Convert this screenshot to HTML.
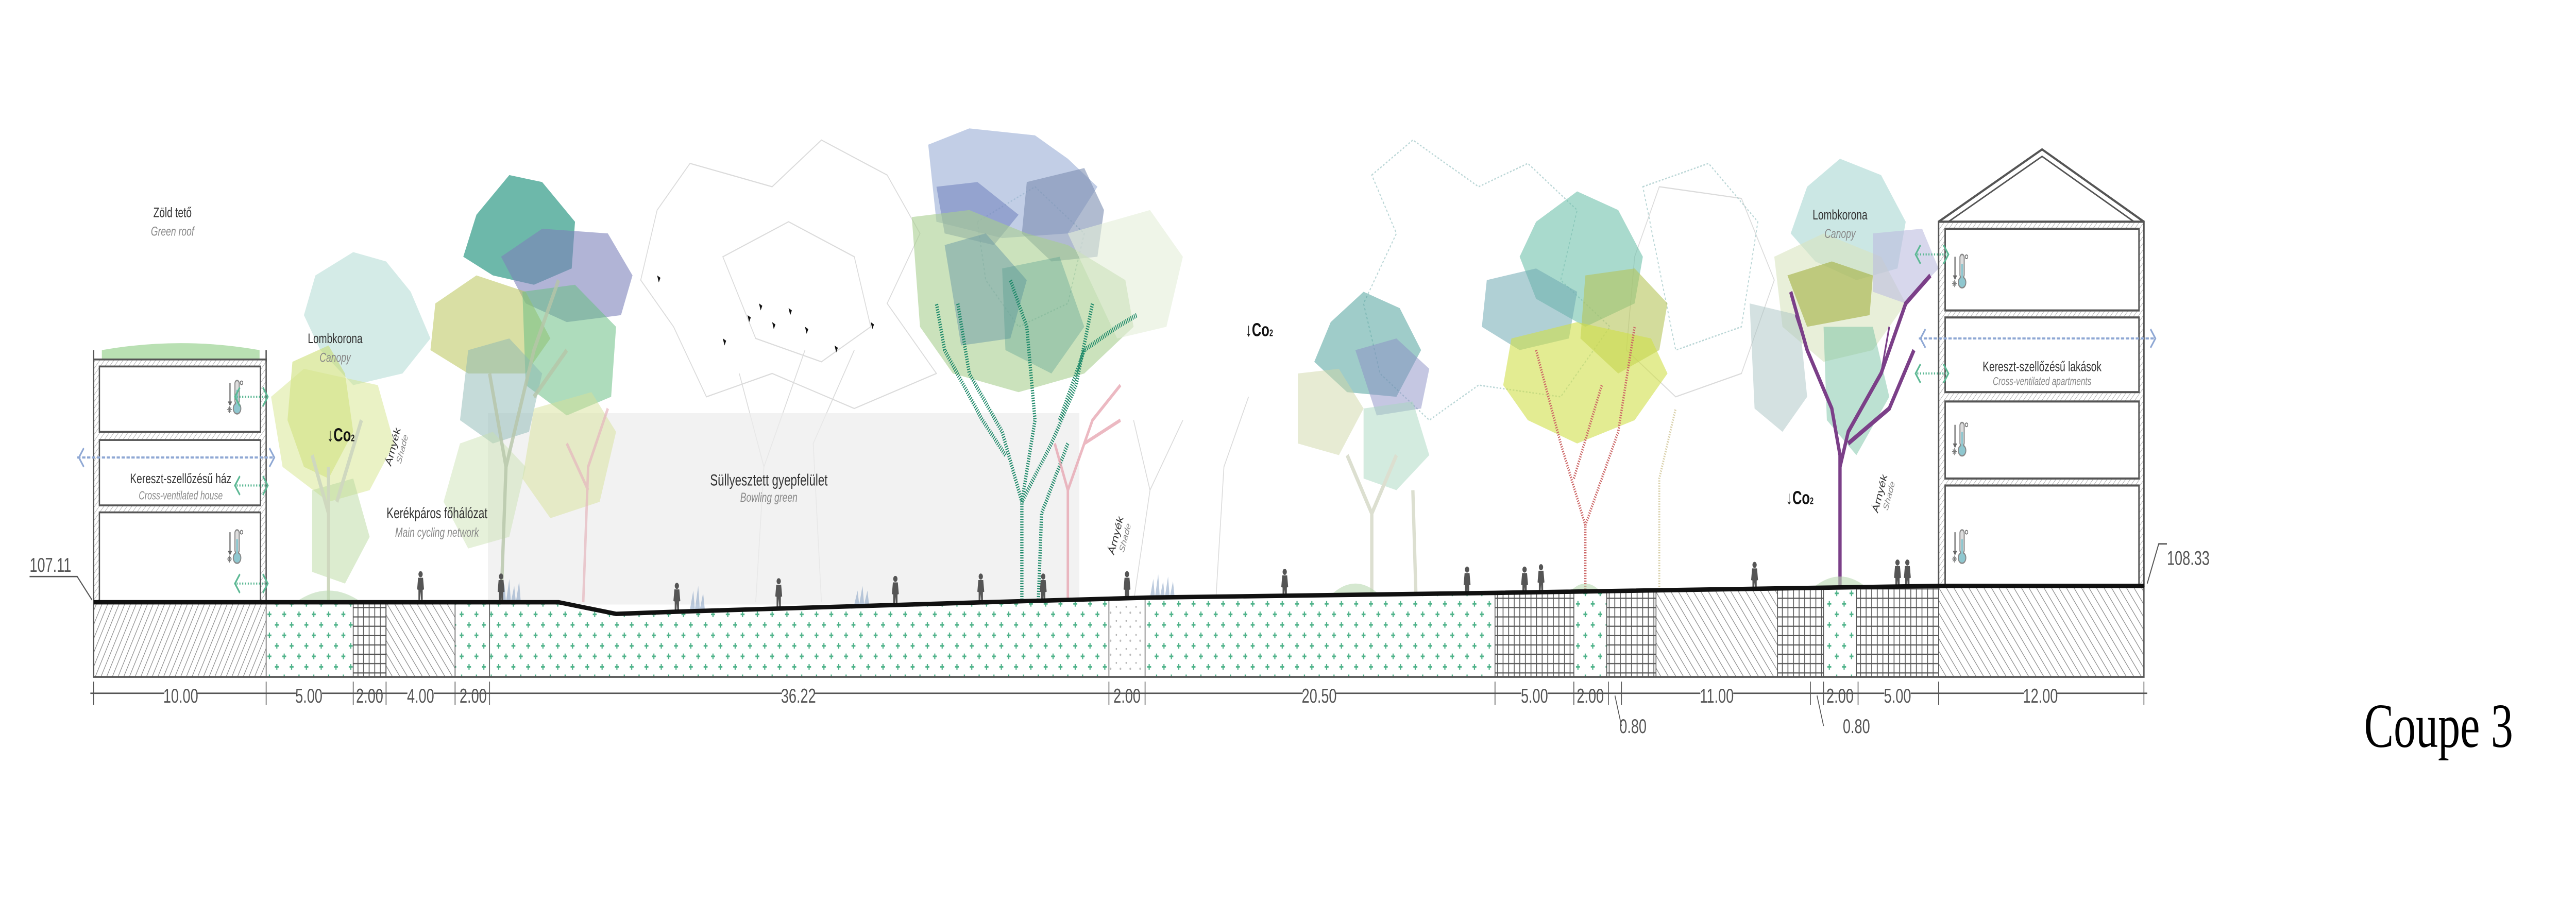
<!DOCTYPE html>
<html><head><meta charset="utf-8">
<style>
html,body{margin:0;padding:0;background:#fff;width:100%;height:100%;overflow:hidden;}
svg{display:block;position:fixed;left:0;top:0;width:100vw;height:100vh;}
.t{font-family:"Liberation Sans",sans-serif;fill:#333;}
.it{font-family:"Liberation Sans",sans-serif;font-style:italic;fill:#888;}
.d{font-family:"Liberation Sans Narrow","Liberation Sans",sans-serif;fill:#555;font-size:8.5px;}
</style></head>
<body>
<svg viewBox="0 0 1568 386" preserveAspectRatio="none" xmlns="http://www.w3.org/2000/svg">
<defs>
<pattern id="hatch" width="3" height="3" patternUnits="userSpaceOnUse" patternTransform="rotate(30)">
<rect width="3" height="3" fill="#fff"/><line x1="0" y1="0" x2="0" y2="3" stroke="#888" stroke-width="0.7"/></pattern>
<pattern id="hatch2" width="3.5" height="3.5" patternUnits="userSpaceOnUse" patternTransform="rotate(-40)">
<rect width="3.5" height="3.5" fill="#fff"/><line x1="0" y1="0" x2="0" y2="3.5" stroke="#888" stroke-width="0.7"/></pattern>
<pattern id="dots" width="9" height="9" patternUnits="userSpaceOnUse">
<rect width="9" height="9" fill="#fff"/>
<g stroke="#4fb38a" stroke-width="0.7"><path d="M2 1v2.4M0.8 2.2h2.4"/><path d="M6.5 5.5v2.4M5.3 6.7h2.4"/></g></pattern>
<pattern id="brick" width="3.4" height="4" patternUnits="userSpaceOnUse">
<rect width="3.4" height="4" fill="#fff"/><path d="M0 0.3H3.4M0.3 0V4" stroke="#555" stroke-width="0.5"/></pattern>
<pattern id="stip" width="6" height="6" patternUnits="userSpaceOnUse">
<rect width="6" height="6" fill="#fff"/><circle cx="1.5" cy="2" r="0.4" fill="#aaa"/><circle cx="4" cy="4.5" r="0.5" fill="#bbb"/></pattern>
<pattern id="wall" width="2" height="2" patternUnits="userSpaceOnUse" patternTransform="rotate(45)">
<rect width="2" height="2" fill="#fff"/><line x1="0" y1="0" x2="0" y2="2" stroke="#999" stroke-width="0.4"/></pattern>
<clipPath id="gc"><path d="M57,258 L340,258 L375,263 L414,262 L600,258 L700,256 L910,254 L1180,251 L1305,251 L1305,290 L57,290Z"/></clipPath>
<g id="thermo">
<path d="M0 0v9" stroke="#666" stroke-width="0.7"/><path d="M-1.3 8l1.3 2 1.3-2z" fill="#666"/>
<rect x="3" y="-1" width="2.6" height="10" rx="1.3" fill="#ddd" stroke="#888" stroke-width="0.6"/>
<circle cx="4.3" cy="11" r="2.3" fill="#8fc7cf" stroke="#888" stroke-width="0.6"/>
<rect x="3.7" y="3" width="1.2" height="7" fill="#8fc7cf"/>
<circle cx="7" cy="0" r="0.8" fill="none" stroke="#666" stroke-width="0.4"/>
<path d="M-1.8 11.5h3M-0.3 10v3M-1.3 10.5l2 2M-1.3 12.5l2-2" stroke="#777" stroke-width="0.35"/>
</g>
<g id="vent"><path d="M4 -4L1 0l3 4M18 -4l3 4-3 4" fill="none" stroke="#5cb894" stroke-width="0.9"/>
<path d="M2 0H20" stroke="#5cb894" stroke-width="0.9" stroke-dasharray="0.7 1"/></g>
<g id="person"><circle cx="0" cy="-11" r="1.3" fill="#555"/><path d="M-1.5 -9.5h3l0.6 5-0.8 0.2 0 4.3h-1l-0.3-3.5-0.3 3.5h-1l0-4.3-0.8-0.2z" fill="#555"/></g>
</defs>

<g fill="none" stroke="#ccc" stroke-width="0.5" opacity="0.7">
<path d="M400 90 L420 70 L470 80 L500 60 L540 75 L560 100 L540 130 L570 160 L520 175 L470 160 L430 170 L410 140 L390 120Z"/>
<path d="M440 110 L480 95 L520 110 L530 140 L500 155 L460 145Z"/>
<path d="M460 258 L465 200 L450 160 M465 200 L490 150 M500 258 L495 190 L520 150"/>
<path d="M690 258 L700 210 L690 180 M700 210 L720 180 M740 258 L745 200 L760 170"/>
<path d="M995 110 L1010 80 L1060 85 L1080 120 L1060 160 L1020 170 L990 150Z"/>
</g>
<g fill="none" stroke="#a9cccc" stroke-width="0.6" stroke-dasharray="1 1" opacity="0.8">
<path d="M835 75 L860 60 L900 80 L930 70 L960 90 L950 120 L980 140 L950 170 L900 165 L870 180 L840 160 L830 130 L850 100Z"/>
<path d="M595 95 L630 80 L660 100 L650 130 L620 140 L600 120Z"/>
<path d="M1000 80 L1040 70 L1070 95 L1060 140 L1020 150Z"/>
</g>

<rect x="297" y="177" width="360" height="82" fill="#ececec" opacity="0.7"/>

<g>
<polygon points="192,118 215,108 235,112 250,125 262,145 245,160 215,165 195,150 185,135" fill="#a9d7cf" opacity="0.5"/>
<polygon points="178,155 200,148 210,160 215,185 200,205 185,200 175,180" fill="#c9dd6b" opacity="0.55"/>
<polygon points="165,170 185,158 230,165 240,190 225,210 200,215 172,200" fill="#d6e58c" opacity="0.5"/>
<polygon points="190,210 215,205 225,230 210,250 190,245" fill="#b9d99f" opacity="0.5"/>
<path d="M200 258 L200 200 M200 220 L190 195 M205 215 L220 180" stroke="#cfd8bf" stroke-width="2" fill="none"/>
<polygon points="290,92 310,75 330,78 350,95 348,115 325,122 300,118 282,110" fill="#2f9a86" opacity="0.7"/>
<polygon points="305,110 330,98 370,100 385,118 378,135 345,138 320,130" fill="#7d82bb" opacity="0.6"/>
<polygon points="265,130 290,118 320,125 335,145 320,160 285,160 262,150" fill="#b9c45a" opacity="0.55"/>
<polygon points="318,125 350,122 375,140 372,170 345,178 320,165" fill="#6cc085" opacity="0.55"/>
<polygon points="285,150 310,145 330,160 322,185 300,190 280,180" fill="#8bb7b3" opacity="0.5"/>
<polygon points="325,175 360,168 375,185 365,215 335,222 318,205" fill="#d8e29a" opacity="0.5"/>
<polygon points="280,190 300,185 320,200 310,230 285,235 270,215" fill="#c7dfae" opacity="0.45"/>
<path d="M305 258 L308 200 L298 160 M308 200 L325 150 L340 120 M325 170 L345 150" stroke="#b7c6a9" stroke-width="2" fill="none" opacity="0.8"/>
<path d="M355 258 L358 200 L370 175 M358 210 L345 190" stroke="#e6b7be" stroke-width="1.5" fill="none" opacity="0.7"/>
</g>

<g>
<polygon points="565,62 590,55 630,58 650,68 668,80 650,100 610,102 570,95" fill="#99add6" opacity="0.6"/>
<polygon points="570,80 595,78 620,92 605,105 575,100" fill="#6f7fbb" opacity="0.55"/>
<polygon points="625,78 660,72 672,90 668,110 640,112 622,100" fill="#7c8db0" opacity="0.6"/>
<polygon points="555,93 590,90 625,100 650,105 685,120 690,140 660,160 620,168 580,160 560,140" fill="#a9cf8f" opacity="0.6"/>
<polygon points="575,105 600,100 625,120 615,145 585,148" fill="#6b9aa6" opacity="0.5"/>
<polygon points="610,115 645,110 660,140 640,160 612,150" fill="#4f9a8c" opacity="0.35"/>
<polygon points="650,100 700,90 720,110 710,140 680,145" fill="#e5efd8" opacity="0.6"/>
<g fill="none" stroke="#1f8a6a" stroke-width="2" stroke-dasharray="0.5 0.6">
<path d="M622 258 L622 215 L610 185 L590 160 L583 130"/>
<path d="M622 215 L640 190 L655 165 L665 130"/>
<path d="M622 215 L630 180 L625 140 L615 120"/>
<path d="M612 195 L598 180 L575 150 L570 130"/>
<path d="M645 180 L660 150 L680 140 L692 135"/>
<path d="M632 258 L634 220 L650 190"/>
</g>
<path d="M650 258 L650 210 L642 190 M650 210 L665 180 L682 165 M660 190 L682 180" stroke="#e7a8b3" stroke-width="1.5" fill="none" opacity="0.8"/>
</g>

<g>
<polygon points="810,138 830,125 852,132 865,150 850,170 820,168 800,155" fill="#3f9a93" opacity="0.5"/>
<polygon points="825,150 850,145 870,158 865,175 838,178" fill="#8b8fc6" opacity="0.5"/>
<polygon points="790,160 815,158 830,175 815,195 790,190" fill="#cfd8a8" opacity="0.5"/>
<polygon points="830,175 860,172 870,195 850,210 830,205" fill="#a8d8c0" opacity="0.5"/>
<path d="M835 258 L835 220 L820 195 M835 220 L850 195 M862 258 L860 210" stroke="#dcdfd0" stroke-width="2" fill="none"/>
<polygon points="935,95 960,82 985,90 1000,110 995,130 965,140 935,128 925,110" fill="#6fc1ac" opacity="0.6"/>
<polygon points="905,120 935,115 960,125 955,145 925,150 902,140" fill="#6fa9b2" opacity="0.55"/>
<polygon points="965,118 995,115 1015,130 1010,150 985,160 962,145" fill="#b6c45a" opacity="0.6"/>
<polygon points="920,145 960,138 1005,145 1015,160 995,180 960,190 930,180 915,165" fill="#d1e04a" opacity="0.6"/>
<path d="M965 258 L965 225 L950 190 L935 150 M965 225 L985 185 L995 140 M958 205 L975 165" stroke="#c66" stroke-width="1.4" stroke-dasharray="0.5 0.6" fill="none"/>
<path d="M1010 258 L1010 205 L1020 175" stroke="#d8cfa8" stroke-width="1.2" stroke-dasharray="0.5 0.6" fill="none"/>
</g>

<g>
<polygon points="1100,80 1120,68 1145,75 1160,95 1155,115 1130,120 1105,112 1090,100" fill="#a9d7d2" opacity="0.6"/>
<polygon points="1080,110 1110,100 1145,110 1160,130 1140,150 1110,155 1085,140" fill="#d8e5c0" opacity="0.6"/>
<polygon points="1088,118 1115,112 1140,118 1138,135 1100,140" fill="#a8b34c" opacity="0.65"/>
<polygon points="1140,100 1170,98 1180,115 1160,130 1140,125" fill="#bcbde0" opacity="0.6"/>
<polygon points="1065,130 1095,135 1100,170 1085,185 1068,175" fill="#aac3c4" opacity="0.5"/>
<polygon points="1110,140 1140,140 1150,170 1130,195 1112,180" fill="#6bbd9c" opacity="0.45"/>
<path d="M1120 258 L1120 195 L1115 175 L1100 150 L1090 125 M1120 200 L1125 185 L1145 160 L1160 130 L1175 118 M1125 190 L1150 175 L1165 150" stroke="#7b3f88" stroke-width="2" fill="none"/>
<path d="M1100 150 L1093 135 M1145 160 L1150 140" stroke="#7b3f88" stroke-width="1" fill="none"/>
</g>

<g stroke="#555" fill="#fff">
<path d="M62,150 Q110,144 158,150 L158,155 L62,155Z" fill="#a8d8a0" stroke="none" opacity="0.8"/>
<rect x="57" y="154" width="105" height="104" fill="url(#wall)" stroke-width="0.8"/>
<rect x="60.5" y="157" width="98" height="28" stroke-width="0.8"/>
<rect x="60.5" y="188.5" width="98" height="28" stroke-width="0.8"/>
<rect x="60.5" y="219.5" width="98" height="38.5" stroke-width="0.8"/>
<path d="M57 150v5M162 150v5" stroke-width="0.8"/>
</g>
<use href="#thermo" x="140" y="164"/>
<use href="#thermo" x="140" y="228"/>
<use href="#vent" x="142" y="170"/>
<use href="#vent" x="142" y="208"/>
<use href="#vent" x="142" y="250"/>
<g stroke="#8fa8d4" stroke-width="0.9" fill="none"><path d="M47 196H167" stroke-dasharray="2 1"/><path d="M51 192l-3 4 3 4M164 192l3 4-3 4"/></g>

<g stroke="#555" fill="#fff">
<path d="M1180 95 L1243 64 L1305 95Z" stroke-width="1"/>
<path d="M1186 95 L1243 67 L1299 95" fill="none" stroke-width="0.7"/>
<rect x="1180" y="95" width="125" height="156" fill="url(#wall)" stroke-width="0.9"/>
<rect x="1184" y="98" width="118" height="35" stroke-width="0.9"/>
<rect x="1184" y="136" width="118" height="32" stroke-width="0.9"/>
<rect x="1184" y="172" width="118" height="33" stroke-width="0.9"/>
<rect x="1184" y="208" width="118" height="43" stroke-width="0.9"/>
</g>
<use href="#thermo" x="1190" y="110"/>
<use href="#thermo" x="1190" y="182"/>
<use href="#thermo" x="1190" y="228"/>
<use href="#vent" x="1165" y="109"/>
<use href="#vent" x="1165" y="160"/>
<g stroke="#8fa8d4" stroke-width="0.9" fill="none"><path d="M1168 145H1312" stroke-dasharray="2 1"/><path d="M1172 141l-3 4 3 4M1309 141l3 4-3 4"/></g>

<g fill="#8fa8c8" opacity="0.6">
<path d="M305 258 l2-8 1 8 2-10 1 10 2-7 1 7 2-9 1 9z"/>
<path d="M420 261 l2-8 1 8 2-10 1 10 2-7 1 7z"/>
<path d="M700 256 l2-8 1 8 2-10 1 10 2-7 1 7 2-9 1 9 2-7 1 7z"/>
<path d="M520 259 l2-6 1 6 2-8 1 8 2-6 1 6z"/>
</g>
<g fill="#b9d9b0" opacity="0.6">
<path d="M810 255 q15-10 30 0z"/><path d="M955 254 q10-8 20 0z"/><path d="M1105 251 q15-8 30 0z"/><path d="M180 258 q20-10 40 0z"/>
</g>

<use href="#person" x="256" y="257"/>
<use href="#person" x="305" y="258"/>
<use href="#person" x="412" y="262"/>
<use href="#person" x="474" y="260"/>
<use href="#person" x="545" y="259"/>
<use href="#person" x="597" y="258"/>
<use href="#person" x="635" y="258"/>
<use href="#person" x="686" y="257"/>
<use href="#person" x="782" y="256"/>
<use href="#person" x="893" y="255"/>
<use href="#person" x="928" y="255"/>
<use href="#person" x="938" y="254"/>
<use href="#person" x="1068" y="253"/>
<use href="#person" x="1155" y="252"/>
<use href="#person" x="1161" y="252"/>
<g fill="#111"><path d="M400 118l2 1-1 2z"/><path d="M455 135l2 1-1 2z"/><path d="M462 130l2 1-1 2z"/><path d="M470 138l2 1-1 2z"/><path d="M480 132l2 1-1 2z"/><path d="M490 140l2 1-1 2z"/><path d="M508 148l2 1-1 2z"/><path d="M530 138l2 1-1 2z"/><path d="M440 145l2 1-1 2z"/></g>

<g clip-path="url(#gc)">
<rect x="57" y="240" width="105" height="52" fill="url(#hatch)"/>
<rect x="162" y="240" width="53" height="52" fill="url(#dots)"/>
<rect x="215" y="240" width="20" height="52" fill="url(#brick)"/>
<rect x="235" y="240" width="42" height="52" fill="url(#hatch2)"/>
<rect x="277" y="240" width="398" height="52" fill="url(#dots)"/>
<rect x="675" y="240" width="22" height="52" fill="url(#stip)"/>
<rect x="697" y="240" width="213" height="52" fill="url(#dots)"/>
<rect x="910" y="240" width="48" height="52" fill="url(#brick)"/>
<rect x="958" y="240" width="20" height="52" fill="url(#dots)"/>
<rect x="978" y="240" width="30" height="52" fill="url(#brick)"/>
<rect x="1008" y="240" width="74" height="52" fill="url(#hatch2)"/>
<rect x="1082" y="240" width="28" height="52" fill="url(#brick)"/>
<rect x="1110" y="240" width="20" height="52" fill="url(#dots)"/>
<rect x="1130" y="240" width="50" height="52" fill="url(#brick)"/>
<rect x="1180" y="240" width="125" height="52" fill="url(#hatch2)"/>
<g stroke="#555" stroke-width="0.5">
<path d="M162 240V290M215 240V290M235 240V290M277 240V290M298 240V290M675 240V290M697 240V290M910 240V290M958 240V290M978 240V290M1008 240V290M1082 240V290M1110 240V290M1130 240V290M1180 240V290"/>
</g>
</g>
<path d="M57 258V290H1305V251" fill="none" stroke="#555" stroke-width="0.8"/>
<path d="M57,258 L340,258 L375,263 L414,262 L600,258 L700,256 L910,254 L1180,251 L1305,251" fill="none" stroke="#111" stroke-width="1.9"/>

<text x="18" y="245" class="d" font-size="9">107.11</text>
<path d="M18 247H47L56 257" fill="none" stroke="#555" stroke-width="0.6"/>
<text x="1319" y="242" class="d" font-size="9">108.33</text>
<path d="M1319 233H1314L1307 250" fill="none" stroke="#555" stroke-width="0.6"/>

<path d="M55 297H1307" stroke="#555" stroke-width="0.6"/>
<g stroke="#555" stroke-width="0.5">
<path d="M57 292v10M162 292v10M215 292v10M235 292v10M277 292v10M298 292v10M675 292v10M697 292v10M910 292v10M958 292v10M979 292v10M987 292v10M1102 292v10M1110 292v10M1131 292v10M1180 292v10M1305 292v10"/>
<path d="M983 298L987 311M1106 298L1110 311" fill="none"/>
</g>
<g class="d" text-anchor="middle">
<rect x="100" y="292" width="20" height="10" fill="#fff"/><text x="110" y="301">10.00</text>
<rect x="180" y="292" width="16" height="10" fill="#fff"/><text x="188" y="301">5.00</text>
<text x="225" y="301">2.00</text>
<rect x="248" y="292" width="16" height="10" fill="#fff"/><text x="256" y="301">4.00</text>
<text x="288" y="301">2.00</text>
<rect x="476" y="292" width="20" height="10" fill="#fff"/><text x="486" y="301">36.22</text>
<text x="686" y="301">2.00</text>
<rect x="793" y="292" width="20" height="10" fill="#fff"/><text x="803" y="301">20.50</text>
<rect x="926" y="292" width="16" height="10" fill="#fff"/><text x="934" y="301">5.00</text>
<text x="968" y="301">2.00</text>
<rect x="1035" y="292" width="20" height="10" fill="#fff"/><text x="1045" y="301">11.00</text>
<text x="1120" y="301">2.00</text>
<rect x="1147" y="292" width="16" height="10" fill="#fff"/><text x="1155" y="301">5.00</text>
<rect x="1232" y="292" width="20" height="10" fill="#fff"/><text x="1242" y="301">12.00</text>
<text x="994" y="314">0.80</text>
<text x="1130" y="314">0.80</text>
</g>

<g text-anchor="middle">
<text x="105" y="93" class="t" font-size="6">Zöld tető</text>
<text x="105" y="101" class="it" font-size="5.5">Green roof</text>
<text x="204" y="147" class="t" font-size="6">Lombkorona</text>
<text x="204" y="155" class="it" font-size="5.5">Canopy</text>
<text x="110" y="207" class="t" font-size="6">Kereszt-szellőzésű ház</text>
<text x="110" y="214" class="it" font-size="5">Cross-ventilated house</text>
<text x="266" y="222" class="t" font-size="6.5">Kerékpáros főhálózat</text>
<text x="266" y="230" class="it" font-size="5.5">Main cycling network</text>
<text x="468" y="208" class="t" font-size="7">Süllyesztett gyepfelület</text>
<text x="468" y="215" class="it" font-size="5.5">Bowling green</text>
<text x="1120" y="94" class="t" font-size="6">Lombkorona</text>
<text x="1120" y="102" class="it" font-size="5.5">Canopy</text>
<text x="1243" y="159" class="t" font-size="6">Kereszt-szellőzésű lakások</text>
<text x="1243" y="165" class="it" font-size="4.8">Cross-ventilated apartments</text>
</g>
<g font-family="Liberation Sans Narrow,Liberation Sans,sans-serif" font-weight="bold" fill="#111">
<text x="199" y="189" font-size="8">↓Co<tspan font-size="4">2</tspan></text>
<text x="758" y="144" font-size="8">↓Co<tspan font-size="4">2</tspan></text>
<text x="1087" y="216" font-size="8">↓Co<tspan font-size="4">2</tspan></text>
</g>
<g>
<text transform="translate(238,200) rotate(-70)" class="t" font-size="5.5">Árnyék</text>
<text transform="translate(244,199) rotate(-70)" class="it" font-size="4.5" fill="#bbb">Shade</text>
<text transform="translate(678,238) rotate(-70)" class="t" font-size="5.5">Árnyék</text>
<text transform="translate(684,237) rotate(-70)" class="it" font-size="4.5">Shade</text>
<text transform="translate(1143,220) rotate(-70)" class="t" font-size="5.5">Árnyék</text>
<text transform="translate(1149,219) rotate(-70)" class="it" font-size="4.5">Shade</text>
</g>
<text x="1439" y="320" font-family="Liberation Serif,serif" font-size="27" fill="#000">Coupe 3</text>
</svg>
</body></html>
